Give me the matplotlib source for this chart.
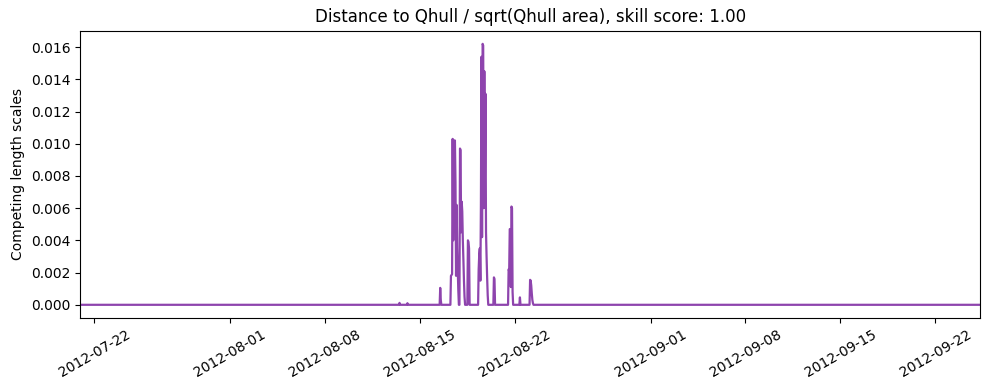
import matplotlib
matplotlib.use('Agg')
import matplotlib.pyplot as plt
import pandas as pd

# hourly score, zero except during the event window
times = [
    "2012-07-20 23:00",
    "2012-08-13 11:00", "2012-08-13 12:00", "2012-08-13 13:00",
    "2012-08-14 01:00", "2012-08-14 02:00", "2012-08-14 03:00",
    "2012-08-16 11:00", "2012-08-16 12:00", "2012-08-16 13:00", "2012-08-16 14:00",
    "2012-08-17 06:00", "2012-08-17 07:00", "2012-08-17 09:00", "2012-08-17 10:00",
    "2012-08-17 11:00", "2012-08-17 12:00", "2012-08-17 13:00", "2012-08-17 14:00",
    "2012-08-17 15:00", "2012-08-17 16:00", "2012-08-17 17:00", "2012-08-17 18:00",
    "2012-08-17 19:00", "2012-08-17 20:00", "2012-08-17 21:00", "2012-08-17 22:00",
    "2012-08-17 23:00", "2012-08-18 00:00", "2012-08-18 01:00", "2012-08-18 02:00",
    "2012-08-18 03:00", "2012-08-18 04:00", "2012-08-18 05:00", "2012-08-18 06:00",
    "2012-08-18 07:00", "2012-08-18 08:00",
    "2012-08-18 12:00", "2012-08-18 13:00", "2012-08-18 14:00", "2012-08-18 15:00",
    "2012-08-18 16:00",
    "2012-08-19 07:00", "2012-08-19 08:00", "2012-08-19 09:00", "2012-08-19 10:00",
    "2012-08-19 11:00", "2012-08-19 12:00", "2012-08-19 13:00", "2012-08-19 14:00",
    "2012-08-19 15:00", "2012-08-19 16:00", "2012-08-19 17:00", "2012-08-19 18:00",
    "2012-08-19 19:00", "2012-08-19 20:00", "2012-08-19 21:00", "2012-08-19 22:00",
    "2012-08-19 23:00", "2012-08-20 00:00", "2012-08-20 01:00",
    "2012-08-20 10:00", "2012-08-20 11:00", "2012-08-20 12:00", "2012-08-20 13:00",
    "2012-08-21 12:00", "2012-08-21 13:00", "2012-08-21 14:00", "2012-08-21 15:00",
    "2012-08-21 16:00", "2012-08-21 17:00", "2012-08-21 18:00", "2012-08-21 19:00",
    "2012-08-21 20:00", "2012-08-21 21:00",
    "2012-08-22 08:00", "2012-08-22 09:00", "2012-08-22 10:00",
    "2012-08-23 02:00", "2012-08-23 03:00", "2012-08-23 04:00", "2012-08-23 05:00",
    "2012-08-23 06:00", "2012-08-23 07:00", "2012-08-23 08:00", "2012-08-23 09:00",
    "2012-09-25 07:00",
]
score = [
    0.0,
    0.0, 0.00012, 0.0,
    0.0, 0.0001, 0.0,
    0.0, 0.00105, 0.0003, 0.0,
    0.0, 0.0018, 0.0019, 0.0103,
    0.0040, 0.0102, 0.0101, 0.0102,
    0.0076, 0.0018, 0.0062, 0.0035,
    0.0022, 0.0009, 0.0, 0.0,
    0.0097, 0.0096, 0.0045, 0.0064,
    0.0058, 0.0040, 0.0028, 0.0015,
    0.0005, 0.0,
    0.0, 0.0040, 0.0039, 0.0035,
    0.0,
    0.0, 0.0022, 0.0031, 0.0035,
    0.0015, 0.0062, 0.0154, 0.0042,
    0.0162, 0.0161, 0.0060, 0.0145,
    0.0078, 0.0131, 0.0045, 0.0030,
    0.0017, 0.0006, 0.0,
    0.0, 0.0017, 0.0016, 0.0,
    0.0, 0.0022, 0.0021, 0.0047,
    0.0047, 0.0011, 0.0061, 0.0060,
    0.0008, 0.0,
    0.0, 0.00046, 0.0,
    0.0, 0.00155, 0.0015, 0.0012,
    0.0007, 0.0003, 0.0001, 0.0,
    0.0,
]

t = pd.to_datetime(times)

fig, ax = plt.subplots(figsize=(9.89, 3.9), dpi=100)
ax.plot(t, score, color='#8e44ad', lw=1.6)
ax.set_xlim(t[0], t[-1])
ax.set_title('Distance to Qhull / sqrt(Qhull area), skill score: 1.00')
ax.set_ylabel('Competing length scales')
plt.setp(ax.get_xticklabels(), rotation=30)
fig.subplots_adjust(left=0.081, right=0.991, top=0.921, bottom=0.185)
plt.savefig('out.png', dpi=100)
